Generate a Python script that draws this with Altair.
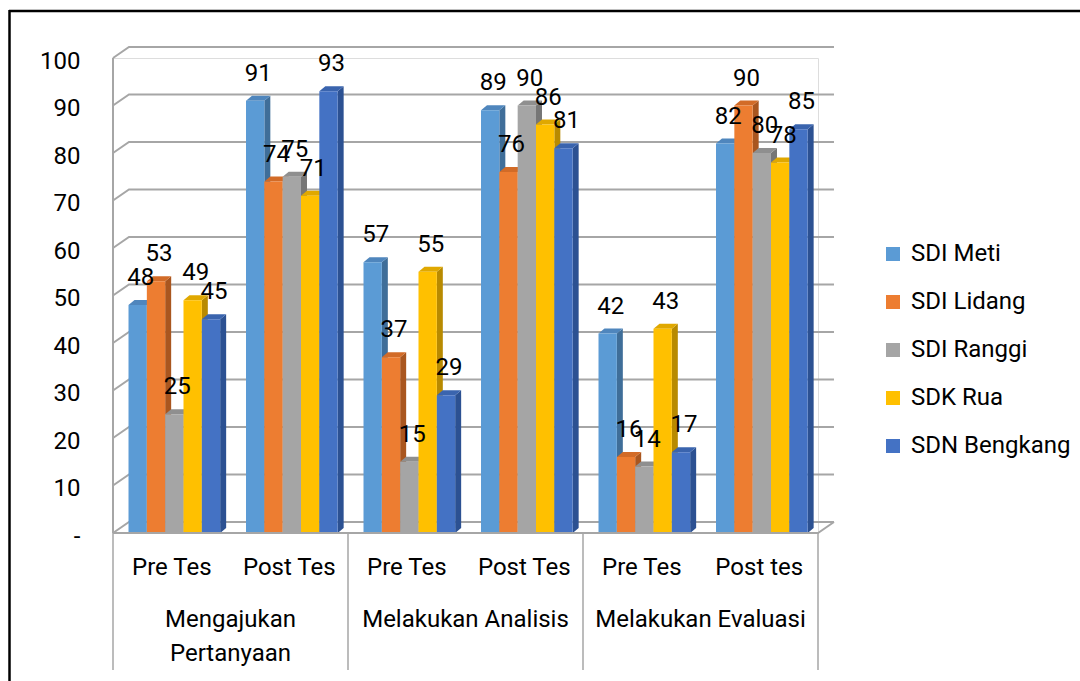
import altair as alt
import pandas as pd

# ---------------- data ----------------
categories = ["Pre Tes", "Post Tes", "Pre Tes", "Post Tes", "Pre Tes", "Post tes"]
group_line1 = ["Mengajukan", "Melakukan Analisis", "Melakukan Evaluasi"]
group_line2 = ["Pertanyaan", "", ""]
series = ["SDI Meti", "SDI Lidang", "SDI Ranggi", "SDK Rua", "SDN Bengkang"]
sdi_meti = [48, 91, 57, 89, 42, 82]
sdi_lidang = [53, 74, 37, 76, 16, 90]
sdi_ranggi = [25, 75, 15, 90, 14, 80]
sdk_rua = [49, 71, 55, 86, 43, 78]
sdn_bengkang = [45, 93, 29, 81, 17, 85]
y_ticks = [0, 10, 20, 30, 40, 50, 60, 70, 80, 90, 100]

values = [sdi_meti, sdi_lidang, sdi_ranggi, sdk_rua, sdn_bengkang]

# ---------------- styles ----------------
colors = ["#5B9BD5", "#ED7D31", "#A5A5A5", "#FFC000", "#4472C4"]
top_colors = ["#4F86BD", "#D26B27", "#8F8F8F", "#E0A800", "#3A64AE"]
side_colors = ["#3F6E99", "#A9561F", "#767676", "#B88A00", "#2C5192"]
FONT = "Roboto"
FS = 24
GRID = "#A6A6A6"

OFF, BW = 0.132, 0.156       # bar offset / width in category units
SDX, SDY = 0.051, 1.05        # bar depth (x units, y units)
GDX, GDY = 0.136, 2.32        # wall depth (x units, y units)
NCAT = len(categories)

# ---------------- tables ----------------
front, side, top = [], [], []
for si, s in enumerate(series):
    for ci in range(NCAT):
        v = values[si][ci]
        bid = f"{si}-{ci}"
        x0 = ci + OFF + si * BW
        x1 = x0 + BW
        front.append(dict(bid=bid, series=s, x0=x0, x1=x1, v=v,
                          xc=x0 + BW / 2 + SDX / 2, label=str(v)))
        side.append(dict(bid=bid, x=x1, yt=v, yb=0, col=side_colors[si]))
        side.append(dict(bid=bid, x=x1 + SDX, yt=v + SDY, yb=SDY, col=side_colors[si]))
        top.append(dict(bid=bid, x=x0, yt=v, yb=v, col=top_colors[si]))
        top.append(dict(bid=bid, x=x0 + SDX, yt=v + SDY, yb=v, col=top_colors[si]))
        top.append(dict(bid=bid, x=x1, yt=v + SDY, yb=v, col=top_colors[si]))
        top.append(dict(bid=bid, x=x1 + SDX, yt=v + SDY, yb=v + SDY, col=top_colors[si]))
front_df = pd.DataFrame(front)
side_df = pd.DataFrame(side)
top_df = pd.DataFrame(top)

grid = []
for t in y_ticks:
    grid += [dict(g=f"g{t}", o=0, x=0, y=t),
             dict(g=f"g{t}", o=1, x=GDX, y=t + GDY),
             dict(g=f"g{t}", o=2, x=NCAT + GDX, y=t + GDY)]
grid += [dict(g="axis", o=0, x=0, y=y_ticks[0]), dict(g="axis", o=1, x=0, y=y_ticks[-1])]
grid_df = pd.DataFrame(grid)
floor_df = pd.DataFrame([dict(g="f", o=0, x=0, y=0), dict(g="f", o=1, x=NCAT, y=0),
                         dict(g="f", o=2, x=NCAT + GDX, y=GDY)])

cat_df = pd.DataFrame(dict(xc=[i + 0.5 for i in range(NCAT)], cat=categories))
grp_df = pd.DataFrame(dict(xc=[2 * i + 1 for i in range(len(group_line1))],
                           l1=group_line1, l2=group_line2))
sep_df = pd.DataFrame(dict(xs=[0, 2, 4, 6]))

# ---------------- scales ----------------
xs = alt.Scale(domain=[0, NCAT], nice=False, zero=False)
ys = alt.Scale(domain=[0, 100], nice=False)
yaxis = alt.Axis(values=y_ticks, labelExpr="datum.value == 0 ? '-' : datum.value",
                 domain=False, ticks=False, grid=False, labelFont=FONT,
                 labelFontSize=FS, labelColor="black", labelPadding=33,
                 labelOffset=3, title=None)


def X(f):
    return alt.X(f, scale=xs, axis=None)


def Y(f):
    return alt.Y(f, scale=ys, axis=yaxis, stack=None)


gridlines = alt.Chart(grid_df).mark_line(color=GRID, strokeWidth=2).encode(
    x=X("x:Q"), y=Y("y:Q"), detail="g:N", order="o:Q")

sides = alt.Chart(side_df).mark_area(interpolate="linear").encode(
    x=X("x:Q"), y=Y("yt:Q"), y2="yb:Q", detail="bid:N",
    color=alt.Color("col:N", scale=None))

tops = alt.Chart(top_df).mark_area(interpolate="linear").encode(
    x=X("x:Q"), y=Y("yt:Q"), y2="yb:Q", detail="bid:N",
    color=alt.Color("col:N", scale=None))

fronts = alt.Chart(front_df).mark_bar().encode(
    x=X("x0:Q"), x2="x1:Q", y=Y("v:Q"), y2=alt.datum(0),
    fill=alt.Fill("series:N", sort=series,
                  scale=alt.Scale(domain=series, range=colors),
                  legend=alt.Legend(orient="none", legendX=768, legendY=184, title=None,
                                    symbolType="square", symbolSize=196,
                                    symbolStrokeWidth=0, labelFont=FONT,
                                    labelFontSize=FS, labelColor="black",
                                    rowPadding=24, labelOffset=6, padding=0,
                                    labelLimit=300)))

floor = alt.Chart(floor_df).mark_line(color=GRID, strokeWidth=2).encode(
    x=X("x:Q"), y=Y("y:Q"), detail="g:N", order="o:Q")

vlabels = alt.Chart(front_df).mark_text(font=FONT, fontSize=FS, baseline="middle",
                                        dy=-27, color="black").encode(
    x=X("xc:Q"), y=Y("v:Q"), text="label:N")

catlabels = alt.Chart(cat_df).mark_text(font=FONT, fontSize=FS, baseline="middle",
                                        color="black").encode(
    x=X("xc:Q"), y=alt.value(510), text="cat:N")

grp1 = alt.Chart(grp_df).mark_text(font=FONT, fontSize=FS, baseline="middle",
                                   color="black").encode(
    x=X("xc:Q"), y=alt.value(562), text="l1:N")
grp2 = alt.Chart(grp_df).mark_text(font=FONT, fontSize=FS, baseline="middle",
                                   color="black").encode(
    x=X("xc:Q"), y=alt.value(596), text="l2:N")

seps = alt.Chart(sep_df).mark_rule(color=GRID, strokeWidth=1.5).encode(
    x=X("xs:Q"), y=alt.value(475), y2=alt.value(612))

border_top = alt.Chart().mark_rule(color="black", strokeWidth=2.5).encode(
    x=alt.value(-104), x2=alt.value(967), y=alt.value(-47))
border_left = alt.Chart().mark_rule(color="black", strokeWidth=2.5).encode(
    x=alt.value(-103.5), y=alt.value(-48), y2=alt.value(623))

chart = alt.layer(
    gridlines, sides, tops, fronts, floor, vlabels, catlabels, grp1, grp2, seps,
    border_top, border_left
).properties(
    width=705, height=475,
    autosize=alt.AutoSizeParams(type="none"),
    padding={"left": 113, "top": 58, "right": 262, "bottom": 148},
).configure_view(stroke=None).configure(background="white")

chart.save("out.html", embed_options={"renderer": "svg", "actions": False})
